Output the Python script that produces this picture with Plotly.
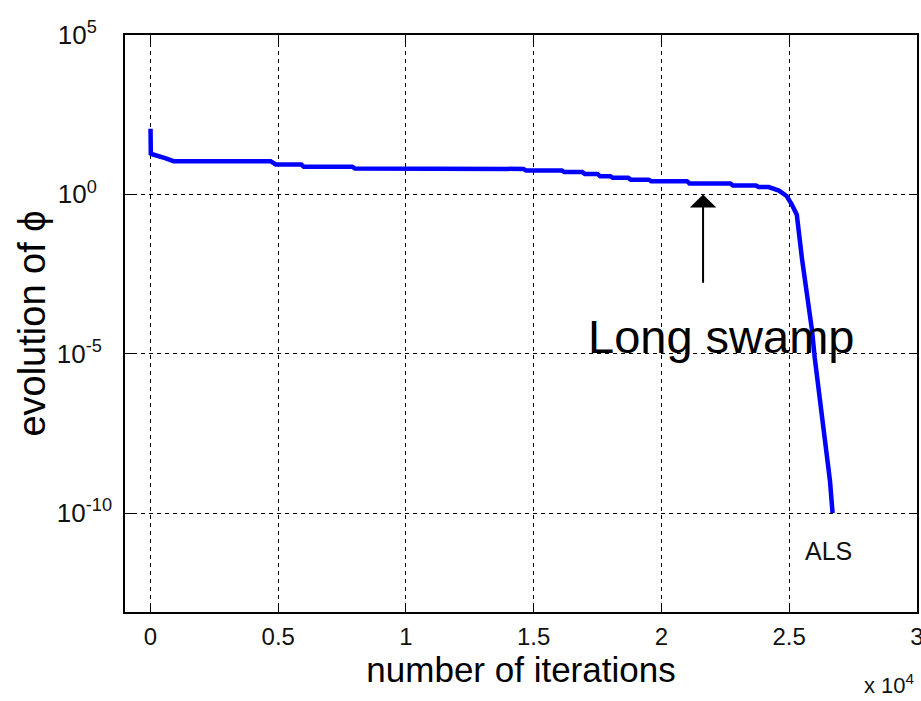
import plotly.graph_objects as go

# ---- data ----
iterations = [0, 10, 100, 400, 600, 900, 4700, 4900, 5900, 6000, 7900, 8000,
              14600, 14700, 16100, 16200, 16900, 17000, 17500, 17600, 18000, 18100,
              18700, 18800, 19500, 19600, 21000, 21100, 22700, 22800, 23700, 23800,
              24200, 24600, 24900, 25100, 25300, 25500, 25700, 25900, 26000, 26200,
              26400, 26600, 26700]
phi = [115, 19.1, 17.8, 15.8, 13.5, 11.0, 11.0, 8.7, 8.7, 7.4, 7.4, 6.5,
       6.3, 5.6, 5.6, 5.0, 5.0, 4.4, 4.4, 3.7, 3.7, 3.3,
       3.3, 2.9, 2.9, 2.6, 2.6, 2.2, 2.2, 1.9, 1.9, 1.7,
       1.7, 1.32, 0.89, 0.49, 0.23, 1.0e-2, 9.3e-4, 5.1e-5, 7.6e-6, 4.2e-7,
       1.4e-8, 1.0e-9, 1.0e-10]

x_tick_vals = [0, 5000, 10000, 15000, 20000, 25000, 30000]
x_tick_text = ["0", "0.5", "1", "1.5", "2", "2.5", "3"]
y_tick_vals = [1e-10, 1e-5, 1, 1e5]
# trailing no-break spaces emulate the left-aligned labels of the original
y_tick_text = ["10<sup>-10</sup>",
               "10<sup>-5\u00a0\u00a0</sup>",
               "10<sup>0\u00a0\u00a0\u00a0</sup>",
               "10<sup>5\u00a0\u00a0\u00a0</sup>"]

arrow_tip = (21630, 1.0)
arrow_tail = (21630, 1.5e-3)
swamp_label = (22340, 3.4e-5)
als_label = (26550, 6.3e-12)

FONT = "Liberation Sans, Arial, sans-serif"

fig = go.Figure()
fig.add_trace(go.Scatter(x=iterations, y=phi, mode="lines",
                         line=dict(color="#0000FF", width=4.5),
                         hoverinfo="skip"))

fig.update_layout(
    width=921, height=701,
    margin=dict(l=125, r=4, t=35, b=89, autoexpand=False),
    paper_bgcolor="white", plot_bgcolor="white",
    showlegend=False,
    font=dict(family=FONT, color="black"),
)

axis_common = dict(
    showline=True, linecolor="black", linewidth=1.5, mirror="ticks",
    ticks="inside", ticklen=8, tickcolor="black", tickwidth=1.2,
    showgrid=True, gridcolor="black", gridwidth=1, griddash="4px,4px",
    zeroline=False, ticklabeloverflow="allow", automargin=False,
)

fig.update_xaxes(
    range=[-1000, 30005], tickmode="array",
    tickvals=x_tick_vals, ticktext=x_tick_text,
    tickfont=dict(size=24, family=FONT, color="#111"),
    ticklabelstandoff=2,
    title=dict(text="number of iterations", font=dict(size=35, family=FONT), standoff=8),
    **axis_common,
)
fig.update_yaxes(
    type="log", range=[-13.1, 5], tickmode="array",
    tickvals=y_tick_vals, ticktext=y_tick_text,
    tickfont=dict(size=26, family=FONT, color="#111"),
    ticklabelstandoff=6,
    title=dict(text="evolution of \u03d5", font=dict(size=38, family=FONT), standoff=0),
    **axis_common,
)

# arrow
fig.add_annotation(x=arrow_tip[0], y=0, ax=arrow_tail[0], ay=-2.82,
                   xref="x", yref="y", axref="x", ayref="y",
                   text="", showarrow=True, arrowhead=1, arrowsize=2.2,
                   arrowwidth=2, arrowcolor="black", standoff=0)
fig.add_annotation(x=swamp_label[0], y=-4.47, xref="x", yref="y",
                   text="Long swamp", showarrow=False,
                   font=dict(size=47, family=FONT, color="black"),
                   xanchor="center", yanchor="middle")
fig.add_annotation(x=als_label[0], y=-11.2, xref="x", yref="y",
                   text="ALS", showarrow=False,
                   font=dict(size=25, family=FONT, color="#111"),
                   xanchor="center", yanchor="middle")
fig.add_annotation(x=1.0, y=0, xref="paper", yref="paper",
                   xshift=0, yshift=-88,
                   text="x 10<sup>4</sup>", showarrow=False,
                   font=dict(size=22, family=FONT, color="#111"),
                   xanchor="right", yanchor="bottom")

fig.write_html("out.html",
               config={"displayModeBar": False},
               post_script="document.body.style.margin='0';document.body.style.overflow='hidden';")
